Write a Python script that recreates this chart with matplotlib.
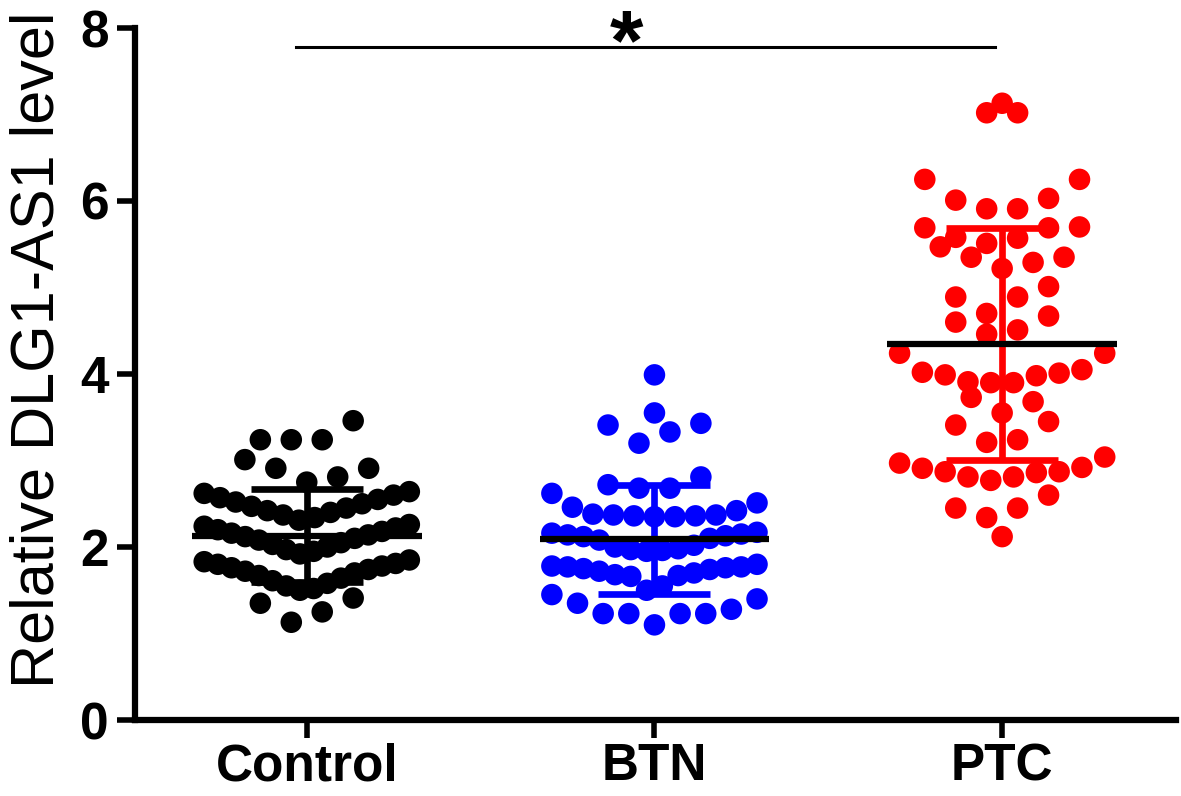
import numpy as np
import matplotlib
matplotlib.use('Agg')
import matplotlib.pyplot as plt

plt.rcParams['font.family'] = ['Liberation Sans', 'DejaVu Sans']

# Values
groups = ['Control', 'BTN', 'PTC']
colors = ['black', 'blue', 'red']

control = [3.46, 3.24, 3.24, 3.24,
           3.01, 2.91, 2.91, 2.81, 2.75,
           2.64, 2.62, 2.60, 2.57, 2.55, 2.52, 2.50, 2.47, 2.45, 2.42, 2.40, 2.37, 2.34, 2.31,
           2.26, 2.24, 2.22, 2.20, 2.18, 2.16, 2.14, 2.12, 2.10, 2.08, 2.05, 2.03, 2.00, 1.97, 1.95, 1.92,
           1.85, 1.83, 1.81, 1.80, 1.78, 1.76, 1.74, 1.72, 1.70, 1.67, 1.64, 1.61, 1.58, 1.55, 1.52, 1.50,
           1.41, 1.35, 1.25, 1.13]

btn = [3.99, 3.55, 3.43, 3.41, 3.33, 3.20,
       2.81, 2.72, 2.68, 2.68, 2.62,
       2.51, 2.46, 2.42, 2.38, 2.37, 2.37, 2.36, 2.36, 2.35, 2.35,
       2.17, 2.16, 2.15, 2.14, 2.13, 2.12, 2.10, 2.08, 2.02, 2.00, 1.98, 1.97, 1.96, 1.95,
       1.80, 1.78, 1.77, 1.77, 1.76, 1.75, 1.74, 1.72, 1.70, 1.68, 1.67, 1.66, 1.55, 1.50,
       1.45, 1.40, 1.35, 1.28, 1.23, 1.23, 1.23, 1.23, 1.10]

ptc = [7.13, 7.02, 7.02, 6.25, 6.25, 6.03, 6.01, 5.91, 5.91,
       5.69, 5.70, 5.69, 5.57, 5.58, 5.47, 5.51, 5.35, 5.29, 5.35, 5.22,
       5.01, 4.89, 4.89, 4.67, 4.70, 4.51, 4.46, 4.60,
       4.24, 4.24, 4.02, 3.99, 3.91, 3.90, 3.90, 3.98, 4.01, 4.05,
       3.68, 3.73, 3.45, 3.41, 3.55, 3.21, 3.24, 2.97, 3.04,
       2.91, 2.87, 2.81, 2.77, 2.81, 2.86, 2.87, 2.92,
       2.60, 2.45, 2.45, 2.34, 2.12]

means = [2.13, 2.09, 4.35]
sds = [0.54, 0.63, 1.34]


def swarm(vals, center, binw=0.4, origin=1.08, step=0.089, maxw=0.59):
    # GraphPad-like layout: values binned into rows, lowest value in the middle
    vals = np.asarray(vals, dtype=float)
    xs = np.zeros_like(vals)
    bins = np.floor((vals - origin) / binw).astype(int)
    for b in np.unique(bins):
        idx = np.where(bins == b)[0]
        idx = idx[np.argsort(vals[idx], kind='stable')]
        k = len(idx)
        dx = step if k <= 1 else min(step, maxw / (k - 1))
        pos = np.arange(k) - (k - 1) / 2
        if k % 2:
            order = sorted(pos, key=lambda p: (abs(p), -p))
        else:
            order = sorted(pos, key=lambda p: (abs(p), p))
        for i, p in zip(idx, order):
            xs[i] = center + p * dx
    return xs, vals


fig = plt.figure(figsize=(11.81, 7.96), dpi=100)
ax = fig.add_axes([135 / 1181, 1 - 720 / 796, (1176 - 135) / 1181, (720 - 28) / 796])

for i, data in enumerate([control, btn, ptc]):
    xs, ys = swarm(data, i)
    ax.scatter(xs, ys, s=240, color=colors[i], edgecolors='none', zorder=2, clip_on=False)
    # SD error bar and mean line
    ax.errorbar(i, means[i], yerr=sds[i], fmt='none', ecolor=colors[i],
                elinewidth=4.8, capsize=40, capthick=4.8, zorder=3)
    ax.plot([i - 0.33, i + 0.33], [means[i], means[i]], color='black', lw=4.5,
            solid_capstyle='butt', zorder=4)

# significance bar
ax.plot([-0.03, 1.98], [7.78, 7.78], color='black', lw=2.2, clip_on=False)
ax.text(0.92, 7.52, '*', ha='center', va='baseline', fontsize=62, fontweight='bold', clip_on=False)

ax.set_xlim(-0.494, 2.5)
ax.set_ylim(0, 8)
ax.set_xticks(range(3))
ax.set_xticklabels(groups, fontsize=37, fontweight='bold')
ax.set_yticks([0, 2, 4, 6, 8])
ax.set_yticklabels(['0', '2', '4', '6', '8'], fontsize=37, fontweight='bold')
ax.set_ylabel('Relative DLG1-AS1 level', fontsize=44)
ax.yaxis.set_label_coords(-0.066, 0.535)

for side in ['top', 'right']:
    ax.spines[side].set_visible(False)
for side in ['left', 'bottom']:
    ax.spines[side].set_linewidth(4.5)
ax.tick_params(axis='both', width=4, length=13)
ax.tick_params(axis='y', pad=6)
ax.tick_params(axis='x', pad=3)

fig.savefig('out.png', dpi=100)
